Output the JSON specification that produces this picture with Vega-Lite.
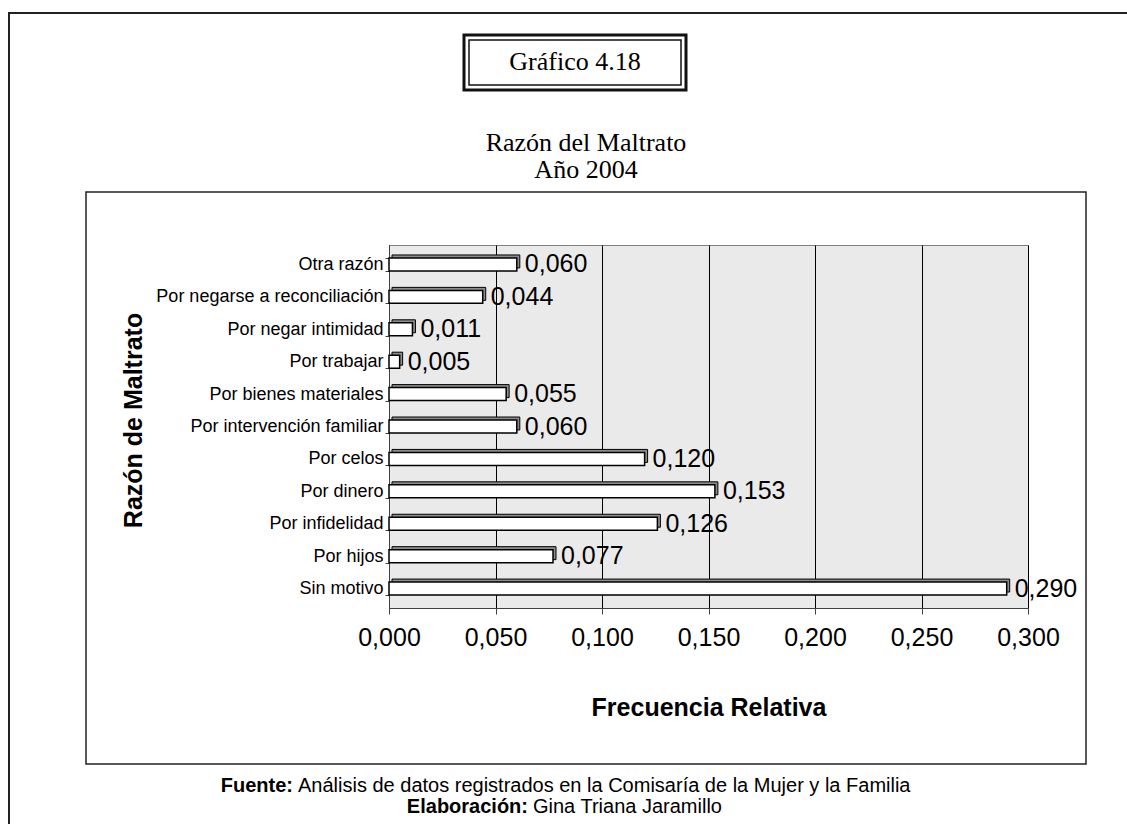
{
  "$schema": "https://vega.github.io/schema/vega-lite/v6.json",
  "width": 639,
  "height": 363,
  "autosize": {"type": "none"},
  "padding": {"left": 389, "top": 245, "right": 99, "bottom": 216},
  "background": "white",
  "config": {
    "locale": {"number": {"decimal": ",", "thousands": ".", "grouping": [3], "currency": ["", ""]}},
    "view": {"fill": "#eaeaea", "stroke": "#808080", "strokeWidth": 1},
    "font": "Liberation Sans"
  },
  "data": {
    "values": [
      {"razon": "Otra razón", "valor": 0.060},
      {"razon": "Por negarse a reconciliación", "valor": 0.044},
      {"razon": "Por negar intimidad", "valor": 0.011},
      {"razon": "Por trabajar", "valor": 0.005},
      {"razon": "Por bienes materiales", "valor": 0.055},
      {"razon": "Por intervención familiar", "valor": 0.060},
      {"razon": "Por celos", "valor": 0.120},
      {"razon": "Por dinero", "valor": 0.153},
      {"razon": "Por infidelidad", "valor": 0.126},
      {"razon": "Por hijos", "valor": 0.077},
      {"razon": "Sin motivo", "valor": 0.290}
    ]
  },
  "layer": [
    {
      "data": {"values": [{}]},
      "mark": {"type": "rect", "filled": false, "stroke": "#222222", "strokeWidth": 2},
      "encoding": {"x": {"value": -380}, "x2": {"value": 760}, "y": {"value": -232}, "y2": {"value": 620}}
    },
    {
      "data": {"values": [{}]},
      "mark": {"type": "rect", "filled": false, "stroke": "#222222", "strokeWidth": 1.5},
      "encoding": {"x": {"value": -303}, "x2": {"value": 697}, "y": {"value": -53}, "y2": {"value": 519}}
    },
    {
      "data": {"values": [{}]},
      "mark": {"type": "rect", "filled": false, "stroke": "#111111", "strokeWidth": 3},
      "encoding": {"x": {"value": 75}, "x2": {"value": 297}, "y": {"value": -210}, "y2": {"value": -155}}
    },
    {
      "data": {"values": [{}]},
      "mark": {"type": "rect", "filled": false, "stroke": "#111111", "strokeWidth": 1.5},
      "encoding": {"x": {"value": 80}, "x2": {"value": 292}, "y": {"value": -205}, "y2": {"value": -160}}
    },
    {
      "data": {"values": [{}]},
      "mark": {"type": "text", "font": "Liberation Serif", "fontSize": 26, "align": "center", "baseline": "middle", "color": "black"},
      "encoding": {"x": {"value": 186}, "y": {"value": -183}, "text": {"value": "Gráfico 4.18"}}
    },
    {
      "data": {"values": [{}]},
      "mark": {"type": "text", "font": "Liberation Serif", "fontSize": 26, "align": "center", "baseline": "alphabetic", "color": "black"},
      "encoding": {"x": {"value": 197}, "y": {"value": -94}, "text": {"value": "Razón del Maltrato"}}
    },
    {
      "data": {"values": [{}]},
      "mark": {"type": "text", "font": "Liberation Serif", "fontSize": 26, "align": "center", "baseline": "alphabetic", "color": "black"},
      "encoding": {"x": {"value": 197}, "y": {"value": -67}, "text": {"value": "Año 2004"}}
    },
    {
      "data": {"values": [{}]},
      "mark": {"type": "text", "font": "Liberation Sans", "fontSize": 20, "fontWeight": "bold", "align": "right", "baseline": "alphabetic", "color": "black"},
      "encoding": {"x": {"value": -96}, "y": {"value": 547}, "text": {"value": "Fuente:"}}
    },
    {
      "data": {"values": [{}]},
      "mark": {"type": "text", "font": "Liberation Sans", "fontSize": 20, "align": "left", "baseline": "alphabetic", "color": "black"},
      "encoding": {"x": {"value": -91}, "y": {"value": 547}, "text": {"value": "Análisis de datos registrados en la Comisaría de la Mujer y la Familia"}}
    },
    {
      "data": {"values": [{}]},
      "mark": {"type": "text", "font": "Liberation Sans", "fontSize": 20, "fontWeight": "bold", "align": "right", "baseline": "alphabetic", "color": "black"},
      "encoding": {"x": {"value": 139}, "y": {"value": 568}, "text": {"value": "Elaboración:"}}
    },
    {
      "data": {"values": [{}]},
      "mark": {"type": "text", "font": "Liberation Sans", "fontSize": 20, "align": "left", "baseline": "alphabetic", "color": "black"},
      "encoding": {"x": {"value": 144}, "y": {"value": 568}, "text": {"value": "Gina Triana Jaramillo"}}
    },
    {
      "encoding": {
        "x": {
          "field": "valor",
          "type": "quantitative",
          "scale": {"domain": [0, 0.3], "nice": false, "zero": true},
          "axis": {
            "values": [0, 0.05, 0.1, 0.15, 0.2, 0.25, 0.3],
            "format": ".3f",
            "title": "Frecuencia Relativa",
            "grid": true,
            "gridColor": "black",
            "gridWidth": 1,
            "gridOpacity": 1,
            "domainColor": "#404040",
            "tickColor": "#404040",
            "tickSize": 6,
            "labelFont": "Liberation Sans",
            "labelFontSize": 25,
            "labelColor": "black",
            "labelPadding": 23,
            "labelBaseline": "middle",
            "labelFlush": false,
            "labelOverlap": false,
            "titleFont": "Liberation Sans",
            "titleFontSize": 25,
            "titleFontWeight": "bold",
            "titleColor": "black",
            "titleX": 319.5,
            "titleY": 99,
            "titleAlign": "center",
            "titleBaseline": "middle"
          }
        },
        "y": {
          "field": "razon",
          "type": "nominal",
          "sort": null,
          "scale": {"paddingInner": 0.6, "paddingOuter": 0.4},
          "axis": {
            "title": "Razón de Maltrato",
            "grid": false,
            "tickBand": "extent",
            "tickSize": 4,
            "tickColor": "#404040",
            "domainColor": "#404040",
            "labelFont": "Liberation Sans",
            "labelFontSize": 18,
            "labelColor": "black",
            "labelPadding": 2,
            "labelLimit": 400,
            "titleFont": "Liberation Sans",
            "titleFontSize": 25,
            "titleFontWeight": "bold",
            "titleColor": "black",
            "titleAngle": 270,
            "titleX": -256,
            "titleY": 175,
            "titleAlign": "center",
            "titleBaseline": "middle"
          }
        }
      },
      "layer": [
        {
          "mark": {"type": "bar", "fill": "#8c8c8c", "stroke": "black", "strokeWidth": 1, "xOffset": 3, "x2Offset": 3, "yOffset": -3, "y2Offset": -3}
        },
        {
          "mark": {"type": "bar", "fill": "white", "stroke": "black", "strokeWidth": 1.5}
        },
        {
          "mark": {"type": "text", "align": "left", "baseline": "middle", "dx": 8, "font": "Liberation Sans", "fontSize": 25, "color": "black"},
          "encoding": {"text": {"field": "valor", "type": "quantitative", "format": ".3f"}}
        }
      ]
    }
  ]
}
